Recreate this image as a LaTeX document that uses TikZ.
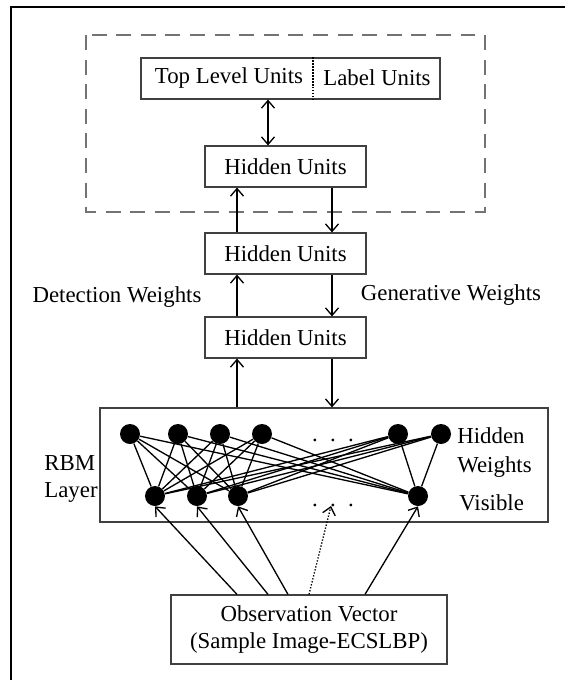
\documentclass[tikz,border=0pt]{standalone}
\usepackage{fontspec}
\setmainfont{Liberation Serif}
\usetikzlibrary{arrows.meta}

\tikzset{
    barb/.tip={Straight Barb[length=1.5mm,width=2.6mm]},
    unitbox/.style={draw=black!75, line width=0.7pt, inner sep=0pt},
    unit/.style={circle, fill=black, minimum size=0.4cm, inner sep=0pt},
    link/.style={line width=0.75pt},
    flow/.style={line width=0.75pt, -barb},
    bothflow/.style={line width=0.75pt, barb-barb},
    txt/.style={inner sep=0pt, font=\fontsize{13}{15.5}\selectfont}
}

\begin{document}
\begin{tikzpicture}[x=0.02cm, y=-0.02cm]
    \useasboundingbox (0,0) rectangle (565,680);
    % outer frame
    \draw[line width=0.9pt] (11,680) -- (11,7) -- (565,7);
    % the top level block
    \draw[black!55, line width=1.3pt, dash pattern=on 8.5pt off 5.5pt] (86,35) rectangle (485,212);

    \node[unitbox, minimum width=5.98cm, minimum height=0.82cm] (top) at (290.5,78.5) {};
    \node[txt] (tlu) at (229,78) {Top Level Units};
    \node[txt] (lbl) at (377,78) {Label Units};
    \draw[densely dotted, line width=0.7pt] (top.north -| 313,0) -- (top.south -| 313,0);

    \node[unitbox, txt, minimum width=3.22cm, minimum height=0.82cm] (hid1) at (285.5,166.5) {Hidden Units};
    \node[unitbox, txt, minimum width=3.22cm, minimum height=0.82cm] (hid2) at (285.5,253.5) {Hidden Units};
    \node[unitbox, txt, minimum width=3.22cm, minimum height=0.82cm] (hid3) at (285.5,337.5) {Hidden Units};
    \node[unitbox, minimum width=8.96cm, minimum height=2.28cm] (rbm) at (324,465) {};
    \node[unitbox, txt, minimum width=5.52cm, minimum height=1.38cm, align=center] (obs) at (309,629.5)
        {Observation Vector\\(Sample Image-ECSLBP)};

    \coordinate (mid) at (268,0);
    \coordinate (up) at (237,0);
    \coordinate (dn) at (332,0);

    \draw[bothflow] (top.south -| mid) -- (hid1.north -| mid);
    \draw[flow] (hid2.north -| up) -- (hid1.south -| up);
    \draw[flow] (hid1.south -| dn) -- (hid2.north -| dn);
    \draw[flow] (hid3.north -| up) -- (hid2.south -| up);
    \draw[flow] (hid2.south -| dn) -- (hid3.north -| dn);
    \draw[flow] (rbm.north -| up) -- (hid3.south -| up);
    \draw[flow] (hid3.south -| dn) -- (rbm.north -| dn);

    \node[txt] (det) at (117,297) {Detection Weights};
    \node[txt] (gen) at (451,295) {Generative Weights};

    % RBM layer
    \foreach \x [count=\i] in {130,178,220,262,398,441}
        \node[unit] (h\i) at (\x,434) {};
    \foreach \x [count=\j] in {155,197,238,418}
        \node[unit] (v\j) at (\x,496) {};
    \foreach \i in {1,...,6}
        \foreach \j in {1,...,4}
            \draw[link] (h\i) -- (v\j);

    \node[txt] (hdots) at (333,440) {.\hspace{7pt}.\hspace{7pt}.};
    \node[txt] (vdots) at (333,505) {.\hspace{7pt}.\hspace{7pt}.};
    \coordinate (vmid) at (331,506);

    \node[txt, anchor=west] (hlab) at (457,436) {Hidden};
    \node[txt, anchor=west] (wlab) at (457,467) {Weights};
    \node[txt, anchor=west] (vlab) at (459,503) {Visible};
    \node[txt, anchor=west, align=left] (rlab) at (44,479) {RBM\\[0pt]Layer};

    % observation feeds the visible units
    \draw[flow] (obs.north -| 237,0) -- (v1.south);
    \draw[flow] (obs.north -| 268,0) -- (v2.south);
    \draw[flow] (obs.north -| 288,0) -- (v3.south);
    \draw[flow, densely dotted] (obs.north -| 309,0) -- (vmid);
    \draw[flow] (obs.north -| 365,0) -- (v4.south);
\end{tikzpicture}
\end{document}
